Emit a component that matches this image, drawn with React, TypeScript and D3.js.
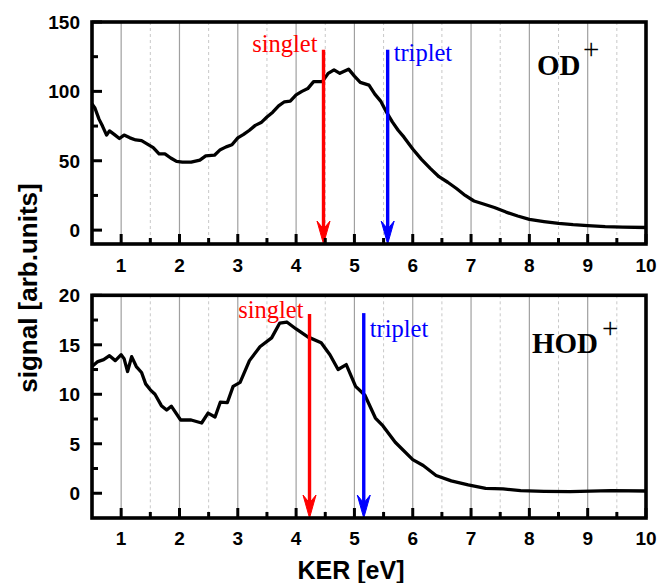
import React from "react";
import * as d3 from "d3";

const X_TICKS = [1, 2, 3, 4, 5, 6, 7, 8, 9, 10];
const X_MINOR = [1.5, 2.5, 3.5, 4.5, 5.5, 6.5, 7.5, 8.5, 9.5];

const OD_Y_TICKS = [0, 50, 100, 150];
const OD_Y_MINOR = [25, 75, 125];
const HOD_Y_TICKS = [0, 5, 10, 15, 20];
const HOD_Y_MINOR = [2.5, 7.5, 12.5, 17.5];

const OD_KER = [0.5, 0.55, 0.62, 0.68, 0.75, 0.8, 0.88, 0.97, 1.05, 1.15, 1.25, 1.35, 1.45, 1.55, 1.65, 1.75, 1.85, 1.95, 2.05, 2.2, 2.35, 2.45, 2.6, 2.7, 2.8, 2.9, 3.0, 3.1, 3.2, 3.3, 3.4, 3.5, 3.6, 3.7, 3.8, 3.9, 4.0, 4.1, 4.2, 4.3, 4.45, 4.55, 4.65, 4.75, 4.9, 5.0, 5.1, 5.25, 5.35, 5.45, 5.55, 5.65, 5.75, 5.85, 6.0, 6.15, 6.3, 6.45, 6.6, 6.75, 6.9, 7.05, 7.2, 7.4, 7.6, 7.8, 8.0, 8.25, 8.5, 8.75, 9.0, 9.3, 9.6, 10.0];
const OD_SIGNAL = [91, 88, 80, 75, 68.5, 71.5, 69, 66, 68.5, 66.5, 65, 64.5, 62, 59.5, 55, 55, 52, 49.5, 49, 49, 50.5, 53.5, 54, 58, 60, 61.5, 66.5, 69, 72, 75.5, 77.5, 81.5, 85, 89.5, 92.5, 93, 97.5, 100, 102, 107, 107, 113, 115.5, 113, 116, 111, 106.5, 104.5, 98, 93, 85, 78, 72, 67, 58.5, 51, 44.5, 38.5, 34.5, 30, 25, 21, 19, 16.3, 13, 10.2, 7.8, 6.2, 4.8, 3.9, 3.3, 2.5, 2.1, 1.9];

const HOD_KER = [0.5, 0.6, 0.7, 0.8, 0.9, 1.0, 1.05, 1.11, 1.18, 1.26, 1.35, 1.42, 1.5, 1.58, 1.69, 1.78, 1.86, 2.02, 2.2, 2.38, 2.49, 2.61, 2.7, 2.82, 2.92, 3.04, 3.2, 3.38, 3.58, 3.72, 3.84, 4.0, 4.2, 4.43, 4.58, 4.72, 4.86, 5.02, 5.18, 5.36, 5.49, 5.7, 6.0, 6.18, 6.4, 6.66, 6.95, 7.25, 7.55, 7.85, 8.25, 8.7, 9.4, 10.0];
const HOD_SIGNAL = [12.8, 13.3, 13.5, 13.9, 13.4, 14.0, 13.6, 12.3, 13.8, 12.8, 12.2, 11.05, 10.45, 10.0, 8.85, 8.4, 8.8, 7.4, 7.4, 7.1, 8.1, 7.7, 9.2, 9.15, 10.8, 11.2, 13.4, 14.8, 15.7, 17.2, 17.3, 16.6, 15.8, 15.2, 14.0, 12.5, 13.0, 10.8, 9.9, 7.6, 6.8, 5.15, 3.4, 2.8, 1.8, 1.25, 0.85, 0.5, 0.44, 0.27, 0.2, 0.17, 0.27, 0.23];

const OD_ARROW_KER = [4.47, 5.57];
const OD_ARROW_TOP = [130, 130];
const HOD_ARROW_KER = [4.23, 5.16];
const HOD_ARROW_TOP = [18.1, 18.2];
const ARROW_LABELS = ["singlet", "triplet"];
const ARROW_COLORS = ["#ff0000", "#0000ff"];

const LEFT = 92;
const RIGHT = 646;
const ARIAL = "'Liberation Sans', Arial, sans-serif";
const TIMES = "'Liberation Serif', 'Times New Roman', serif";

const x = d3.scaleLinear().domain([0.5, 10]).range([LEFT, RIGHT]);

type PanelProps = {
  top: number;
  bottom: number;
  yDomain: [number, number];
  yTicks: number[];
  yMinor: number[];
  ker: number[];
  signal: number[];
  arrowKer: number[];
  arrowTop: number[];
  labelBaselines: number[];
  label: string;
  labelX: number;
  labelY: number;
  plusX: number;
  plusY: number;
  tickLabelY: number;
};

function Panel(p: PanelProps) {
  const y = d3.scaleLinear().domain(p.yDomain).range([p.bottom, p.top]);
  const pts = p.ker.map((k, i) => [k, p.signal[i]] as [number, number]);
  const line = d3
    .line<[number, number]>()
    .x((d) => x(d[0]))
    .y((d) => y(d[1]));
  const yb = p.bottom;
  return (
    <g>
      {X_MINOR.map((v) => (
        <line key={"gm" + v} x1={x(v)} x2={x(v)} y1={p.top} y2={p.bottom} stroke="#c8c8c8" strokeWidth={1} strokeDasharray="3,3" />
      ))}
      {X_TICKS.filter((v) => v < 10).map((v) => (
        <line key={"g" + v} x1={x(v)} x2={x(v)} y1={p.top} y2={p.bottom} stroke="#a0a0a0" strokeWidth={1.2} />
      ))}
      <path d={line(pts) || ""} fill="none" stroke="#000" strokeWidth={3.3} strokeLinejoin="round" />
      {p.arrowKer.map((k, i) => {
        const ax = x(k);
        const at = y(p.arrowTop[i]);
        const c = ARROW_COLORS[i];
        return (
          <g key={"a" + i}>
            <line x1={ax} x2={ax} y1={at} y2={yb - 10} stroke={c} strokeWidth={3.4} />
            <path d={`M${ax},${yb} L${ax - 6.5},${yb - 23} L${ax},${yb - 15} L${ax + 6.5},${yb - 23} Z`} fill={c} stroke={c} strokeWidth={1} strokeLinejoin="miter" />
            <text
              x={i === 0 ? ax - 6 : ax + 6}
              y={p.labelBaselines[i]}
              fill={c}
              fontFamily={TIMES}
              fontSize={24.5}
              textAnchor={i === 0 ? "end" : "start"}
            >
              {ARROW_LABELS[i]}
            </text>
          </g>
        );
      })}
      {X_TICKS.map((v) => (
        <line key={"xt" + v} x1={x(v)} x2={x(v)} y1={yb} y2={yb - 10} stroke="#000" strokeWidth={3} />
      ))}
      {X_MINOR.map((v) => (
        <line key={"xm" + v} x1={x(v)} x2={x(v)} y1={yb} y2={yb - 6} stroke="#000" strokeWidth={3} />
      ))}
      {p.yTicks.map((v) => (
        <line key={"yt" + v} x1={LEFT} x2={LEFT + 10} y1={y(v)} y2={y(v)} stroke="#000" strokeWidth={3} />
      ))}
      {p.yMinor.map((v) => (
        <line key={"ym" + v} x1={LEFT} x2={LEFT + 6} y1={y(v)} y2={y(v)} stroke="#000" strokeWidth={3} />
      ))}
      <rect x={LEFT} y={p.top} width={RIGHT - LEFT} height={p.bottom - p.top} fill="none" stroke="#000" strokeWidth={3.6} />
      {X_TICKS.map((v) => (
        <text key={"xl" + v} x={x(v)} y={p.tickLabelY} textAnchor="middle" fontFamily={ARIAL} fontWeight="bold" fontSize={19} fill="#000">
          {v}
        </text>
      ))}
      {p.yTicks.map((v) => (
        <text key={"yl" + v} x={80} y={y(v)} dy="0.36em" textAnchor="end" fontFamily={ARIAL} fontWeight="bold" fontSize={19} fill="#000">
          {v}
        </text>
      ))}
      <text x={p.labelX} y={p.labelY} fontFamily={TIMES} fontWeight="bold" fontSize={29} fill="#000">
        {p.label}
      </text>
      <text x={p.plusX} y={p.plusY} fontFamily={TIMES} fontSize={29} fill="#000">
        +
      </text>
    </g>
  );
}

export default function App() {
  return (
    <svg
      width={659}
      height={583}
      style={{ position: "absolute", left: 0, top: 0, background: "#fff" }}
    >
      <rect x={0} y={0} width={659} height={583} fill="#fff" />
      <Panel
        top={22}
        bottom={244}
        yDomain={[-10, 150]}
        yTicks={OD_Y_TICKS}
        yMinor={OD_Y_MINOR}
        ker={OD_KER}
        signal={OD_SIGNAL}
        arrowKer={OD_ARROW_KER}
        arrowTop={OD_ARROW_TOP}
        labelBaselines={[52, 61]}
        label="OD"
        labelX={537}
        labelY={75}
        plusX={583}
        plusY={59}
        tickLabelY={272}
      />
      <Panel
        top={295.3}
        bottom={518}
        yDomain={[-2.5, 20]}
        yTicks={HOD_Y_TICKS}
        yMinor={HOD_Y_MINOR}
        ker={HOD_KER}
        signal={HOD_SIGNAL}
        arrowKer={HOD_ARROW_KER}
        arrowTop={HOD_ARROW_TOP}
        labelBaselines={[318, 337]}
        label="HOD"
        labelX={532}
        labelY={353}
        plusX={602}
        plusY={338}
        tickLabelY={545}
      />
      <text
        transform="translate(37,288) rotate(-90)"
        textAnchor="middle"
        fontFamily={ARIAL}
        fontWeight="bold"
        fontSize={26}
        fill="#000"
      >
        signal [arb.units]
      </text>
      <text x={351} y={579} textAnchor="middle" fontFamily={ARIAL} fontWeight="bold" fontSize={25} fill="#000">
        KER [eV]
      </text>
    </svg>
  );
}
